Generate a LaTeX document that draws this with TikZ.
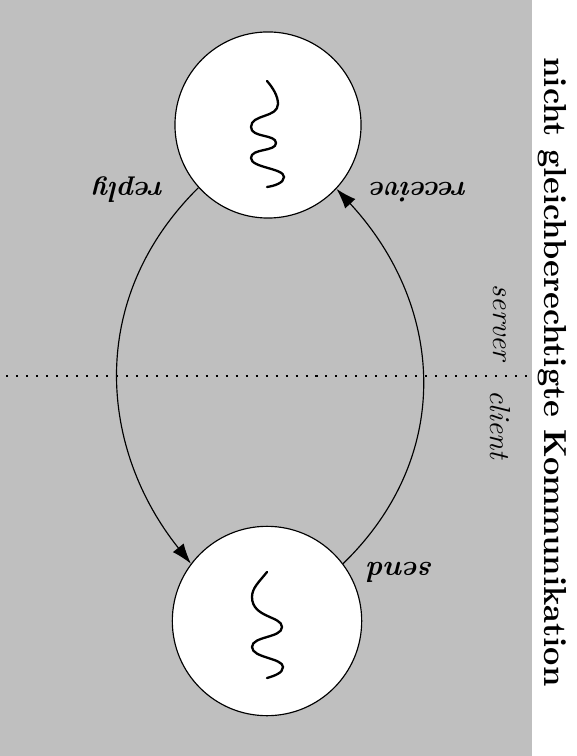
\documentclass[tikz,border=0pt]{standalone}
\usepackage{fontspec}
\setmainfont{Latin Modern Roman}
\usetikzlibrary{arrows.meta}
\tikzset{
  proc/.style = {circle, draw, fill = white, inner sep = 0pt},
  flow/.style = {-{Latex[length = 7pt, width = 4.8pt]}},
  msg/.style = {font = \bfseries\itshape, rotate = 180},
  side/.style = {font = \itshape, rotate = -90},
  headline/.style = {font = \fontsize{11}{13}\selectfont\bfseries, rotate = -90},
  squiggle/.style = {line width = 0.8pt, line cap = round}
}

\begin{document}
\begin{tikzpicture}[x = 0.01215cm, y = -0.01215cm]
  \useasboundingbox (0, 0) rectangle (576, 756);
  \fill[gray!50] (0, 0) rectangle (532, 756);

  % server / client border
  \draw[dash pattern = on 0.7pt off 2.75pt, line width = 0.7pt] (6, 376) -- (532, 376);

  \node[proc, minimum size = 2.26cm] (srv) at (268, 125) {};
  \node[proc, minimum size = 2.3cm] (cli) at (267, 621) {};

  \draw[squiggle] (267, 81) .. controls (273, 88) and (278, 96) .. (278, 104)
    .. controls (278, 118) and (251, 114) .. (251, 127)
    .. controls (251, 138) and (276, 134) .. (276, 143)
    .. controls (276, 152) and (251, 148) .. (251, 158)
    .. controls (251, 168) and (284, 168) .. (284, 177)
    .. controls (284, 183) and (274, 186) .. (267, 187);
  \draw[squiggle] (267, 572) .. controls (259, 582) and (252, 588) .. (252, 597)
    .. controls (252, 618) and (282, 616) .. (282, 627)
    .. controls (282, 638) and (252, 636) .. (252, 647)
    .. controls (252, 658) and (283, 658) .. (283, 667)
    .. controls (283, 673) and (274, 676) .. (267, 678);

  \draw[flow] (srv.222) .. controls (85, 300) and (100, 450) .. (cli.143);
  \draw[flow] (cli.37) .. controls (455, 455) and (444, 305) .. (srv.317);

  \node[msg] (reply) at (129, 190) {reply};
  \node[msg] (receive) at (419, 192) {receive};
  \node[msg] (send) at (401, 572) {send};

  \node[side] (server) at (500, 323) {server};
  \node[side] (client) at (500, 425) {client};

  \node[headline] (title) at (552, 372) {nicht gleichberechtigte Kommunikation};
\end{tikzpicture}
\end{document}
